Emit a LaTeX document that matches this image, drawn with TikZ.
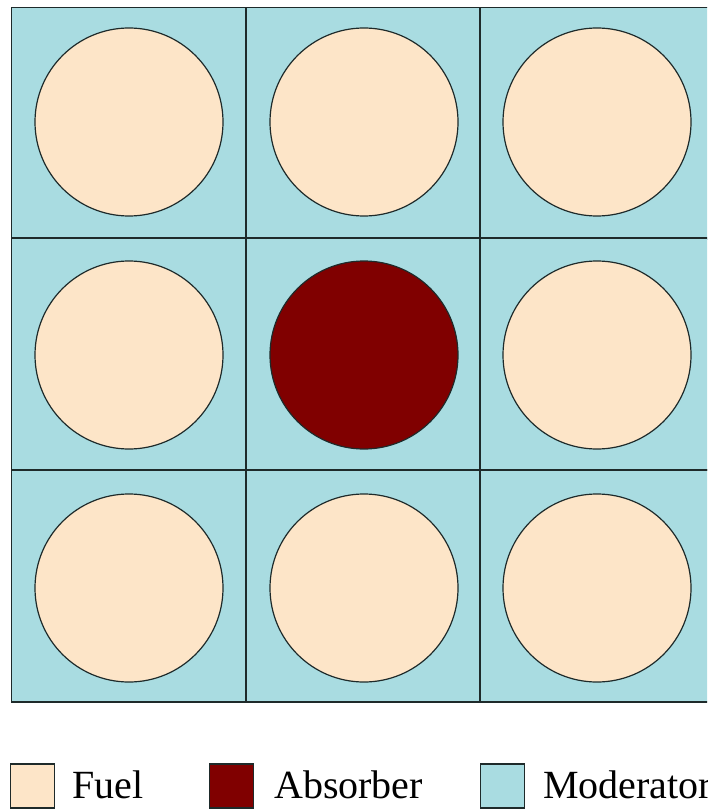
\documentclass[tikz,border=0pt]{standalone}
\usepackage{fontspec}
\setmainfont{Liberation Serif}
\definecolor{fuelc}{HTML}{FDE5C8}
\definecolor{modc}{HTML}{A9DCE1}
\definecolor{absc}{HTML}{800000}
\definecolor{linec}{HTML}{1E2A2A}
\begin{document}
\begin{tikzpicture}[x=1pt,y=-1pt,
  cell/.style={draw=linec,line width=1.6pt,fill=modc},
  pin/.style={circle,draw=linec,line width=1.2pt,minimum size=188pt,inner sep=0pt},
  fuel/.style={pin,fill=fuelc},
  absorber/.style={pin,fill=absc},
  lbox/.style={draw=linec,line width=1.4pt,minimum size=44pt,inner sep=0pt},
  ltext/.style={anchor=base west,font=\fontsize{40}{42}\selectfont,inner sep=0pt}]
\useasboundingbox (0,0) rectangle (707,810);
\clip (0,0) rectangle (707,810);
% grid cells
\foreach \i/\x in {0/11.5,1/246,2/480}{
  \foreach \j/\y in {0/7.5,1/238,2/470}{
    \draw[cell] (\x,\y) rectangle ++(234,232);
  }
}
% pins
\node[fuel] (p11) at (129,122) {};
\node[fuel] (p12) at (364,122) {};
\node[fuel] (p13) at (597,122) {};
\node[fuel] (p21) at (129,355) {};
\node[absorber] (p22) at (364,355) {};
\node[fuel] (p23) at (597,355) {};
\node[fuel] (p31) at (129,588) {};
\node[fuel] (p32) at (364,588) {};
\node[fuel] (p33) at (597,588) {};
% legend
\node[lbox,fill=fuelc] (lf) at (32.5,786) {};
\node[ltext] (tf) at (72,798) {Fuel};
\node[lbox,fill=absc] (la) at (231.5,786) {};
\node[ltext] (ta) at (274,798) {Absorber};
\node[lbox,fill=modc] (lm) at (502.5,786) {};
\node[ltext] (tm) at (543,798) {Moderator};
\end{tikzpicture}
\end{document}
